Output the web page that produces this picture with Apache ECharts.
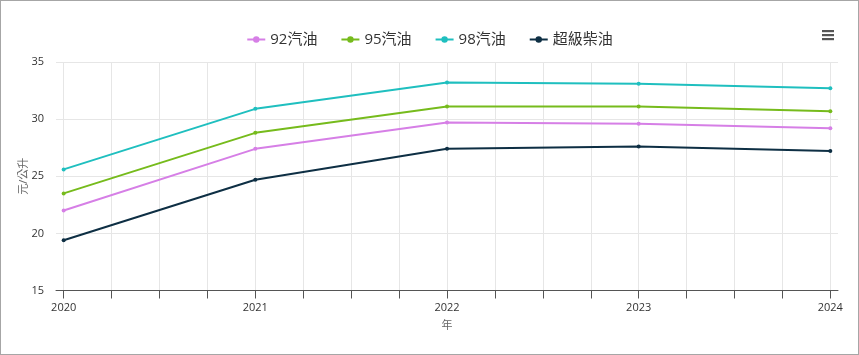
<!DOCTYPE html>
<html><head><meta charset="utf-8">
<script src="https://cdn.jsdelivr.net/npm/echarts@6/dist/echarts.min.js"></script>
<style>
html,body{margin:0;padding:0;background:#fff;}
#c{position:absolute;left:0;top:0;width:859px;height:355px;}
#b{position:absolute;left:0;top:0;width:857px;height:353px;border:1px solid #a6a6a6;pointer-events:none;}
</style></head>
<body><div id="c"></div><div id="b"></div>
<script>
const years = [2020, 2021, 2022, 2023, 2024];
const seriesNames = ['92汽油', '95汽油', '98汽油', '超級柴油'];
const gas92 = [22.0, 27.4, 29.7, 29.6, 29.2];
const gas95 = [23.5, 28.8, 31.1, 31.1, 30.7];
const gas98 = [25.6, 30.9, 33.2, 33.1, 32.7];
const diesel = [19.4, 24.7, 27.4, 27.6, 27.2];
const tickValues = [2020, 2020.25, 2020.5, 2020.75, 2021, 2021.25, 2021.5, 2021.75, 2022, 2022.25, 2022.5, 2022.75, 2023, 2023.25, 2023.5, 2023.75, 2024];
const yTicks = [15, 20, 25, 30, 35];
const colors = ['#d67fe6', '#76bb1c', '#1fbfbf', '#0e2f44'];

const FONT = '"Open Sans", "Noto Sans CJK TC", sans-serif';
const allData = [gas92, gas95, gas98, diesel];
const chart = echarts.init(document.getElementById('c'), null, {renderer: 'canvas'});
chart.setOption({
  animation: false,
  textStyle: {fontFamily: FONT},
  color: colors,
  legend: {
    top: 27, left: 'center', itemWidth: 18, itemHeight: 8, itemGap: 23,
    textStyle: {fontSize: 15, color: '#333', fontFamily: FONT},
    data: seriesNames
  },
  graphic: [
    {type: 'rect', shape: {x: 822, y: 30, width: 12, height: 2.2}, style: {fill: '#555'}},
    {type: 'rect', shape: {x: 822, y: 34, width: 12, height: 2.2}, style: {fill: '#555'}},
    {type: 'rect', shape: {x: 822, y: 38, width: 12, height: 2.2}, style: {fill: '#555'}}
  ],
  grid: {left: 56, right: 21, top: 62, bottom: 64.5, containLabel: false},
  xAxis: {
    type: 'value', min: 2019.96, max: 2024.04,
    name: '年', nameLocation: 'middle', nameGap: 30, nameMoveOverlap: false,
    nameTextStyle: {fontSize: 11, color: '#666', fontFamily: FONT},
    axisLine: {show: true, lineStyle: {color: '#555', width: 1}},
    axisTick: {show: true, length: 8, lineStyle: {color: '#555'}, customValues: tickValues},
    axisLabel: {customValues: years, fontSize: 11, color: '#333', margin: 12, formatter: v => String(v)},
    splitLine: {show: true, lineStyle: {color: '#e6e6e6', width: 1}}
  },
  yAxis: {
    type: 'value', min: 15, max: 35, interval: 5,
    name: '元/公升', nameLocation: 'middle', nameGap: 27, nameRotate: 90, nameMoveOverlap: false,
    nameTextStyle: {fontSize: 11, color: '#666', fontFamily: FONT},
    axisLine: {show: false}, axisTick: {show: false},
    axisLabel: {fontSize: 11, color: '#333', margin: 12},
    splitLine: {show: true, lineStyle: {color: '#e6e6e6', width: 1}}
  },
  series: seriesNames.map((n, i) => ({
    name: n, type: 'line',
    data: years.map((y, j) => [y, allData[i][j]]),
    symbol: 'circle', symbolSize: 4, showSymbol: true,
    lineStyle: {width: 2}, itemStyle: {color: colors[i]},
    emphasis: {disabled: true}
  }))
});
</script></body></html>
